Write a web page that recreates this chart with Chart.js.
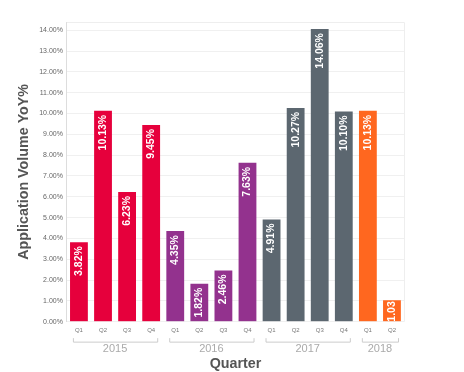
<!DOCTYPE html>
<html>
<head>
<meta charset="utf-8">
<script src="https://cdn.jsdelivr.net/npm/chart.js@4.4.1/dist/chart.umd.min.js"></script>
<style>
    html, body { margin: 0; padding: 0; background: #fff; }
    #wrap { width: 464px; height: 372px; position: relative; }
</style>
</head>
<body>
<div id="wrap"><canvas id="yoyChart"></canvas></div>
<script>
// Data
const quarters = ['Q1', 'Q2', 'Q3', 'Q4', 'Q1', 'Q2', 'Q3', 'Q4', 'Q1', 'Q2', 'Q3', 'Q4', 'Q1', 'Q2'];
const years = ['2015', '2015', '2015', '2015', '2016', '2016', '2016', '2016', '2017', '2017', '2017', '2017', '2018', '2018'];
const yoyValues = [3.82, 10.13, 6.23, 9.45, 4.35, 1.82, 2.46, 7.63, 4.91, 10.27, 14.06, 10.10, 10.13, 1.03];
const yearColors = { '2015': '#e6003c', '2016': '#93328e', '2017': '#5c6770', '2018': '#ff671f' };

const FONT = "'Liberation Sans', Arial, sans-serif";

// White rotated value labels inside the bars
const barLabels = {
    id: 'barLabels',
    afterDatasetsDraw(chart) {
        const ctx = chart.ctx;
        const meta = chart.getDatasetMeta(0);
        ctx.save();
        ctx.font = 'bold 10.5px ' + FONT;
        ctx.fillStyle = '#fff';
        ctx.textAlign = 'right';
        ctx.textBaseline = 'middle';
        meta.data.forEach((bar, i) => {
            let txt = yoyValues[i].toFixed(2) + '%';
            const h = bar.base - bar.y;
            while (txt.length > 1 && ctx.measureText(txt).width > h) txt = txt.slice(0, -1);
            const w = ctx.measureText(txt).width;
            const off = Math.min(4, Math.max(1, h - w - 1));
            ctx.save();
            ctx.translate(bar.x, bar.y + off);
            ctx.rotate(-Math.PI / 2);
            ctx.fillText(txt, 0, 0);
            ctx.restore();
        });
        ctx.restore();
    }
};

// Year brackets under the quarter ticks, plus top/right frame
const yearGroups = {
    id: 'yearGroups',
    afterDraw(chart) {
        const ctx = chart.ctx;
        const area = chart.chartArea;
        const xs = chart.scales.x;
        const step = xs.getPixelForValue(1) - xs.getPixelForValue(0);
        ctx.save();
        ctx.strokeStyle = '#eeeeee';
        ctx.lineWidth = 1;
        ctx.beginPath();
        ctx.moveTo(area.left, area.top + 0.5);
        ctx.lineTo(area.right + 0.5, area.top + 0.5);
        ctx.lineTo(area.right + 0.5, area.bottom);
        ctx.stroke();

        const seen = [...new Set(years)];
        const yLine = area.bottom + 20.5;
        seen.forEach(yr => {
            const first = years.indexOf(yr);
            const last = years.lastIndexOf(yr);
            const x0 = xs.getPixelForValue(first) - step / 2 + 6;
            const x1 = xs.getPixelForValue(last) + step / 2 - 6;
            ctx.strokeStyle = '#cccccc';
            ctx.beginPath();
            ctx.moveTo(x0 + 0.5, yLine - 4);
            ctx.lineTo(x0 + 0.5, yLine);
            ctx.lineTo(x1 + 0.5, yLine);
            ctx.lineTo(x1 + 0.5, yLine - 4);
            ctx.stroke();
            ctx.fillStyle = '#aaaaaa';
            ctx.font = '11px ' + FONT;
            ctx.textAlign = 'center';
            ctx.textBaseline = 'middle';
            ctx.fillText(yr, (x0 + x1) / 2, yLine + 7);
        });
        ctx.restore();
    }
};

new Chart(document.getElementById('yoyChart'), {
    type: 'bar',
    data: {
        labels: quarters,
        datasets: [{
            data: yoyValues,
            backgroundColor: years.map(y => yearColors[y]),
            categoryPercentage: 1,
            barPercentage: 0.74
        }]
    },
    options: {
        responsive: true,
        maintainAspectRatio: false,
        animation: false,
        layout: { padding: { top: 22, right: 60, left: 15, bottom: 0 } },
        plugins: {
            legend: { display: false },
            tooltip: { enabled: false }
        },
        scales: {
            x: {
                grid: { display: false, drawTicks: false },
                border: { display: false },
                ticks: { color: '#777', font: { size: 6, family: FONT }, padding: 5, maxRotation: 0, autoSkip: false },
                title: {
                    display: true,
                    text: 'Quarter',
                    color: '#555',
                    font: { size: 14.3, weight: 'bold', family: FONT },
                    padding: { top: 17, bottom: -1 }
                }
            },
            y: {
                min: 0,
                max: 14.4,
                grid: { color: '#f0f0f0', drawTicks: false },
                border: { display: true, color: '#dddddd' },
                ticks: {
                    stepSize: 1,
                    includeBounds: false,
                    color: '#666',
                    padding: 4,
                    font: { size: 7, family: FONT },
                    callback: v => v.toFixed(2) + '%'
                },
                title: {
                    display: true,
                    text: 'Application Volume YoY%',
                    color: '#555',
                    font: { size: 14.3, weight: 'bold', family: FONT },
                    padding: { top: 0, bottom: 3 }
                }
            }
        }
    },
    plugins: [barLabels, yearGroups]
});
</script>
</body>
</html>
